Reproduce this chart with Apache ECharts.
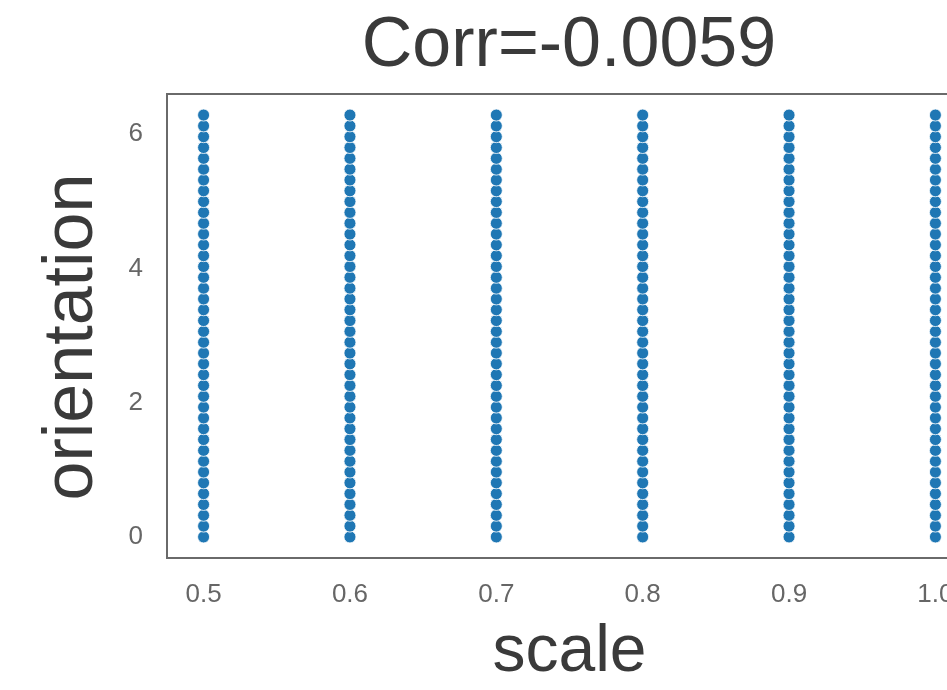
<!DOCTYPE html>
<html>
<head>
<meta charset="utf-8">
<script src="https://cdn.jsdelivr.net/npm/echarts@6/dist/echarts.min.js"></script>
<style>
  html, body { margin: 0; padding: 0; background: #fff; overflow: hidden; }
  #chart { width: 947px; height: 690px; }
</style>
</head>
<body>
<div id="chart"></div>
<script>
// Sampled scale factors (x) and orientation angles in radians (y)
const scales = [0.5, 0.6, 0.7, 0.8, 0.9, 1.0];
const orientations = [
  0.0000, 0.1611, 0.3222, 0.4833, 0.6444, 0.8055, 0.9666, 1.1278,
  1.2889, 1.4500, 1.6111, 1.7722, 1.9333, 2.0944, 2.2555, 2.4166,
  2.5777, 2.7388, 2.8999, 3.0610, 3.2221, 3.3833, 3.5444, 3.7055,
  3.8666, 4.0277, 4.1888, 4.3499, 4.5110, 4.6721, 4.8332, 4.9943,
  5.1554, 5.3165, 5.4776, 5.6388, 5.7999, 5.9610, 6.1221, 6.2832
];
const xTicks = [0.5, 0.6, 0.7, 0.8, 0.9, 1.0];
const yTicks = [0, 2, 4, 6];
const titleText = 'Corr=-0.0059';

// every (scale, orientation) pair in the sample
const points = [];
scales.forEach(s => orientations.forEach(o => points.push([s, o])));

const font = 'Liberation Sans, Arial, sans-serif';
const chart = echarts.init(document.getElementById('chart'), null, { renderer: 'canvas' });
chart.setOption({
  animation: false,
  backgroundColor: '#fff',
  title: {
    text: titleText,
    left: 564,
    textAlign: 'center',
    top: 7,
    textStyle: { fontFamily: font, fontSize: 70, fontWeight: 'normal', color: '#3a3a3a' }
  },
  // the plot area runs on past the right edge of the canvas
  grid: {
    left: 167, width: 805, top: 94, bottom: 132,
    outerBoundsMode: 'none',
    containLabel: false,
    show: true, borderColor: '#6a6a6a', borderWidth: 2, backgroundColor: 'transparent'
  },
  xAxis: {
    type: 'value',
    min: 0.475, max: 1.025,
    name: 'scale',
    nameLocation: 'middle',
    nameGap: 62,
    nameTextStyle: { fontFamily: font, fontSize: 66, color: '#3a3a3a' },
    axisLine: { show: false },
    axisTick: { show: false },
    splitLine: { show: false },
    axisLabel: {
      customValues: xTicks,
      formatter: v => v.toFixed(1),
      margin: 24,
      fontFamily: font, fontSize: 26, color: '#666'
    }
  },
  yAxis: {
    type: 'value',
    min: -0.314, max: 6.597,
    name: 'orientation',
    nameLocation: 'middle',
    nameGap: 59,
    nameTextStyle: { fontFamily: font, fontSize: 70, color: '#3a3a3a', padding: [0, 22, 0, 0] },
    axisLine: { show: false },
    axisTick: { show: false },
    splitLine: { show: false },
    axisLabel: {
      customValues: yTicks,
      margin: 24,
      fontFamily: font, fontSize: 26, color: '#666'
    }
  },
  series: [{
    type: 'scatter',
    data: points,
    symbol: 'circle',
    symbolSize: 12,
    itemStyle: { color: '#1f77b4', borderColor: '#ffffff', borderWidth: 0.8, opacity: 1 }
  }]
});
</script>
</body>
</html>
